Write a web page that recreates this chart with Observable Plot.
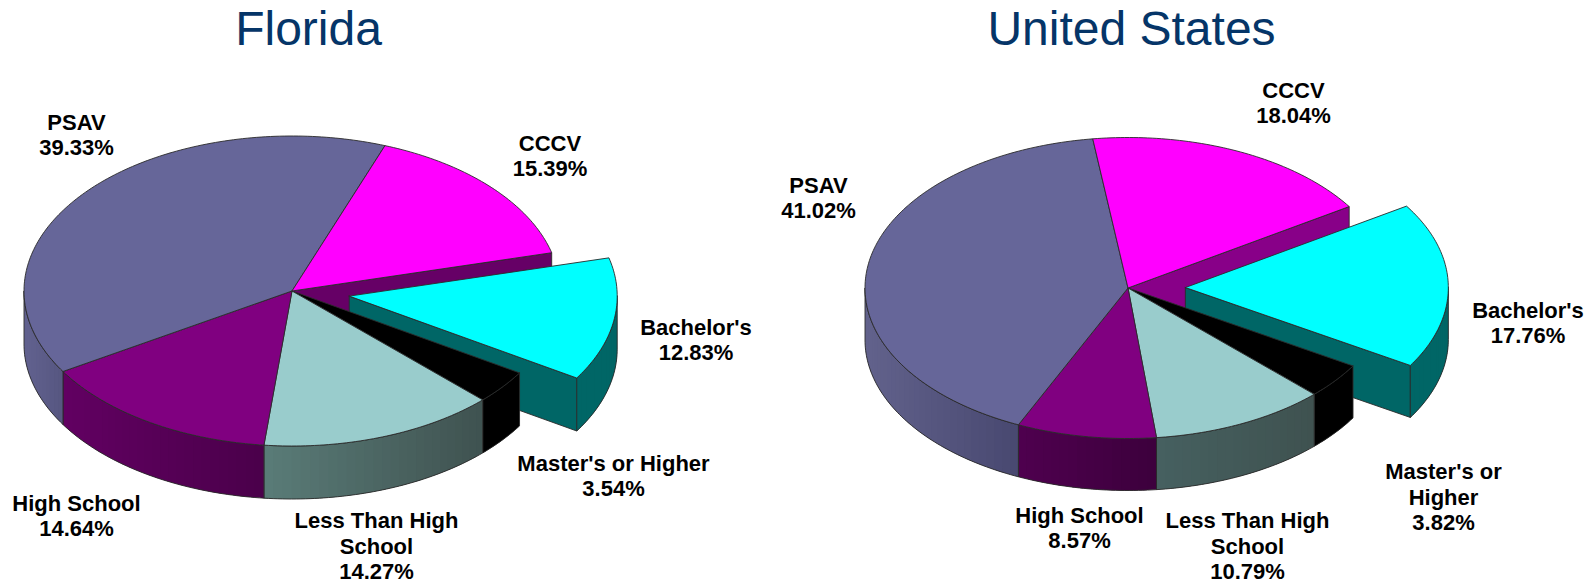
<!DOCTYPE html>
<html><head><meta charset="utf-8">
<script src="https://cdn.jsdelivr.net/npm/d3@7"></script>
<script src="https://cdn.jsdelivr.net/npm/@observablehq/plot@0.6"></script>
<style>html,body{margin:0;padding:0;background:#fff}svg{display:block}</style>
</head><body><div id="chart"></div>
<script>
// Data, clockwise from the chart's first slice
const categories = ["CCCV", "Bachelor's", "Master's or Higher", "Less Than High School", "High School", "PSAV"];
const floridaValues = [15.39, 12.83, 3.54, 14.27, 14.64, 39.33];
const usValues = [18.04, 17.76, 3.82, 10.79, 8.57, 41.02];
const floridaLabels = ["CCCV", "Bachelor's", "Master's or Higher", "Less Than High\nSchool", "High School", "PSAV"];
const usLabels = ["CCCV", "Bachelor's", "Master's or\nHigher", "Less Than High\nSchool", "High School", "PSAV"];

// Styles and layout
const topColors = ["#ff00ff", "#00ffff", "#000000", "#99cccc", "#800080", "#666699"];
const floridaWalls = [["#660066","#660066"],["#006666","#006666"],["#000000","#000000"],["#5a7c78","#3f5250"],["#620062","#4a004a"],["#626290","#565680"]];
const usWalls = [["#880088","#880088"],["#006666","#006666"],["#000000","#000000"],["#466060","#3f5250"],["#4f004f","#3c003c"],["#62628c","#484870"]];
const edge = "#2a2a2a";
const panels = [
  {title: "Florida", titleX: 308, values: floridaValues, labels: floridaLabels, walls: floridaWalls,
   cx: 291.5, cy: 290.5, rx: 268, ry: 155, depth: 53, start: 20.3, explode: 0.216,
   labelX: [549.5, 695.5, 613, 376, 76, 76], labelY: [155, 339, 475, 545, 515, 134]},
  {title: "United States", titleX: 1131, values: usValues, labels: usLabels, walls: usWalls,
   cx: 1127.5, cy: 287.5, rx: 263, ry: 150.5, depth: 52, start: -7.7, explode: 0.218,
   labelX: [1293, 1527.5, 1443, 1247, 1079, 818], labelY: [102, 322, 496, 545, 527, 197]}
];
const explodeIndex = 1, rad = Math.PI / 180;

const polys = [];
let pid = 0;
function poly(points, fill, stroke) {
  const id = pid++;
  for (const [x, y] of points) polys.push({id, x, y, fill, stroke});
}
function drawPanel(p) {
  let a = p.start;
  const slices = p.values.map((v, i) => {
    const s = {i, a0: a, a1: a + v * 3.6, ox: 0, oy: 0};
    a = s.a1;
    if (i === explodeIndex) {
      const m = (s.a0 + s.a1) / 2 * rad;
      s.ox = p.explode * p.rx * Math.sin(m);
      s.oy = -p.explode * p.ry * Math.cos(m);
    }
    return s;
  });
  const pt = (s, ang, dz = 0) => [
    p.cx + s.ox + p.rx * Math.sin(ang * rad),
    p.cy + s.oy - p.ry * Math.cos(ang * rad) + dz
  ];
  const centre = (s, dz = 0) => [p.cx + s.ox, p.cy + s.oy + dz];
  const arc = (s, a0, a1, dz = 0) => {
    const n = Math.max(2, Math.ceil(Math.abs(a1 - a0)));
    return d3.range(n + 1).map(k => pt(s, a0 + (a1 - a0) * k / n, dz));
  };
  const radialWall = s => {
    const rim = pt(s, s.a1), rimB = pt(s, s.a1, p.depth);
    poly([centre(s), rim, rimB, centre(s, p.depth), centre(s)], p.walls[s.i][0], edge);
  };
  const rimWall = s => {
    // visible only for the front half of the cylinder, wherever the slice overlaps it
    const ranges = [[90, 270], [450, 630], [-270, -90]];
    for (const [lo, hi] of ranges) {
      const a0 = Math.max(s.a0, lo), a1 = Math.min(s.a1, hi);
      if (a1 <= a0) continue;
      const colour = d3.interpolateRgb(p.walls[s.i][0], p.walls[s.i][1]);
      const xa = pt(s, a0)[0], xb = pt(s, a1)[0];
      const x0 = Math.min(xa, xb), x1 = Math.max(xa, xb);
      const n = Math.ceil((a1 - a0) / 2);
      for (let k = 0; k < n; k++) {
        const b0 = a0 + (a1 - a0) * k / n;
        const b1 = Math.min(a1, a0 + (a1 - a0) * (k + 2) / n); // overlap the next band: no seams
        const t = x1 > x0 ? (pt(s, a0 + (a1 - a0) * (k + 0.5) / n)[0] - x0) / (x1 - x0) : 0;
        const c = colour(t);
        poly([...arc(s, b0, b1), ...arc(s, b1, b0, p.depth), pt(s, b0)], c, "none");
      }
      poly([...arc(s, a0, a1), ...arc(s, a1, a0, p.depth), pt(s, a0)], "none", edge);
    }
  };
  const top = s => {
    poly([centre(s), ...arc(s, s.a0, s.a1), centre(s)], topColors[s.i], edge);
  };
  // Painter's order: slices behind first, the pulled-out slice under the rest of the pie
  const [cccv, bach, mast, less, high, psav] = slices;
  radialWall(cccv);
  radialWall(bach);
  rimWall(bach);
  top(bach);
  for (const s of [mast, less, high, psav]) { rimWall(s); top(s); }
  top(cccv);
}
panels.forEach(drawPanel);

const labelRows = panels.flatMap(p => p.values.map((v, i) => ({
  text: `${p.labels[i]}\n${v.toFixed(2)}%`, x: p.labelX[i], y: p.labelY[i]
})));
const titleRows = panels.map(p => ({text: p.title, x: p.titleX}));

const chart = Plot.plot({
  width: 1593, height: 581,
  margin: 0,
  x: {domain: [0, 1593], range: [0, 1593], axis: null},
  y: {domain: [0, 581], range: [0, 581], axis: null},
  color: {type: "identity"},
  style: {background: "#fff"},
  marks: [
    Plot.line(polys, {x: "x", y: "y", z: "id", fill: "fill", stroke: "stroke", strokeWidth: 0.9, strokeLinejoin: "round"}),
    Plot.text(labelRows, {x: "x", y: "y", text: "text", fontFamily: "Liberation Sans", fontWeight: 700, fontSize: 22, lineHeight: 1.15, fill: "#000", textAnchor: "middle", lineAnchor: "middle"}),
    Plot.text(titleRows, {x: "x", y: () => 29, text: "text", fontFamily: "Liberation Sans", fontSize: 48, fill: "#053568", textAnchor: "middle", lineAnchor: "middle"})
  ]
});
document.getElementById("chart").append(chart);
</script></body></html>
